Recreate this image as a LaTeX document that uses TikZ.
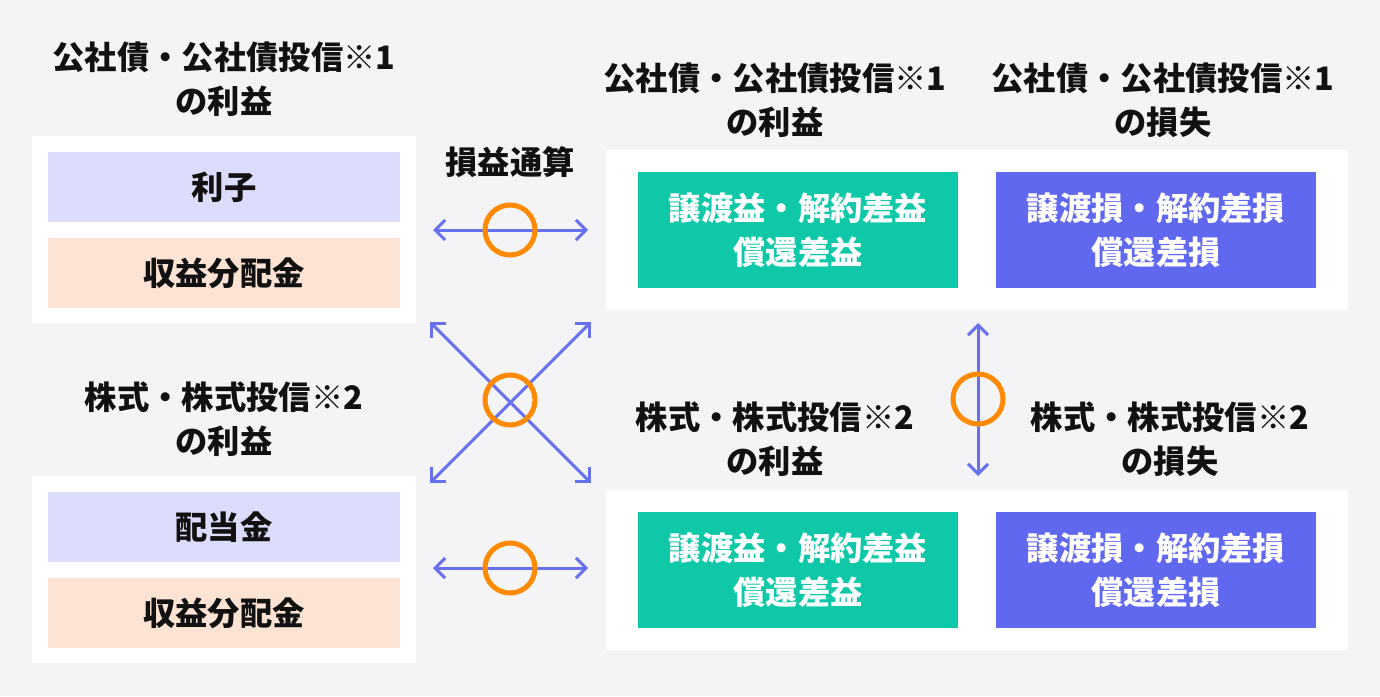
\documentclass[tikz,border=0pt]{standalone}
\usepackage{fontspec}
\setmainfont{Noto Sans CJK JP}
\usetikzlibrary{arrows.meta}
\definecolor{bg}{HTML}{F4F4F7}
\definecolor{lblue}{HTML}{DCDCFC}
\definecolor{lpeach}{HTML}{FDE3D3}
\definecolor{grn}{HTML}{0EC8A8}
\definecolor{blu}{HTML}{6068F0}
\definecolor{arr}{HTML}{6670F0}
\definecolor{org}{HTML}{FF8A00}
\definecolor{ink}{HTML}{111111}
\tikzset{
  ttl/.style={font=\bfseries\fontsize{32.3}{44}\selectfont, text=ink, align=center, inner sep=0pt},
  panel/.style={fill=white, draw=none},
  lbox/.style={draw=none, minimum width=352pt, minimum height=70pt, inner sep=0pt, font=\bfseries\fontsize{32.3}{44}\selectfont, text=ink},
  rbox/.style={draw=none, minimum width=320pt, minimum height=116pt, inner sep=0pt, align=center, font=\bfseries\fontsize{32.3}{44}\selectfont, text=white},
  link/.style={draw=arr, line width=3pt, {Straight Barb[length=10pt,width=20pt]}-{Straight Barb[length=10pt,width=20pt]}},
  ring/.style={draw=org, line width=5pt, circle, minimum size=50pt, inner sep=0pt}
}
\begin{document}
\begin{tikzpicture}[x=1pt,y=-1pt]
\fill[bg] (0,0) rectangle (1380,696);
\useasboundingbox (0,0) rectangle (1380,696);
% panels
\fill[panel] (32,136) rectangle (416,323);
\fill[panel] (32,476) rectangle (416,663);
\fill[panel] (606,150) rectangle (1348,310);
\fill[panel] (606,490) rectangle (1348,650);
% left boxes
\node[lbox, fill=lblue] (rishi) at (224,187) {利子};
\node[lbox, fill=lpeach] (bun1) at (224,273) {収益分配金};
\node[lbox, fill=lblue] (haito) at (224,527) {配当金};
\node[lbox, fill=lpeach] (bun2) at (224,613) {収益分配金};
% right boxes
\node[rbox, fill=grn] (g1) at (798,230) {譲渡益・解約差益\\償還差益};
\node[rbox, fill=blu] (b1) at (1156,230) {譲渡損・解約差損\\償還差損};
\node[rbox, fill=grn] (g2) at (798,570) {譲渡益・解約差益\\償還差益};
\node[rbox, fill=blu] (b2) at (1156,570) {譲渡損・解約差損\\償還差損};
% titles
\node[ttl] (t1) at (224,79) {公社債・公社債投信※1\\の利益};
\node[ttl] (t2) at (775,100) {公社債・公社債投信※1\\の利益};
\node[ttl] (t3) at (1163,100) {公社債・公社債投信※1\\の損失};
\node[ttl] (t4) at (224,419) {株式・株式投信※2\\の利益};
\node[ttl] (t5) at (775,439) {株式・株式投信※2\\の利益};
\node[ttl] (t6) at (1170,439) {株式・株式投信※2\\の損失};
\node[ttl] (ts) at (510,162) {損益通算};
% arrow endpoints
\coordinate (a1l) at (433,230); \coordinate (a1r) at (588,230);
\coordinate (a2l) at (433,568); \coordinate (a2r) at (588,568);
\coordinate (xtl) at (430,322); \coordinate (xbr) at (591,483);
\coordinate (xtr) at (591,322); \coordinate (xbl) at (430,483);
\coordinate (vt) at (978,323); \coordinate (vb) at (978,476);
\draw[link] (a1l) -- (a1r);
\draw[link] (a2l) -- (a2r);
\draw[link] (xtl) -- (xbr);
\draw[link] (xbl) -- (xtr);
\draw[link] (vt) -- (vb);
\node[ring] (c1) at (510,230) {};
\node[ring] (c2) at (510,568) {};
\node[ring] (c3) at (510,400) {};
\node[ring] (c4) at (978,399) {};
\end{tikzpicture}
\end{document}
